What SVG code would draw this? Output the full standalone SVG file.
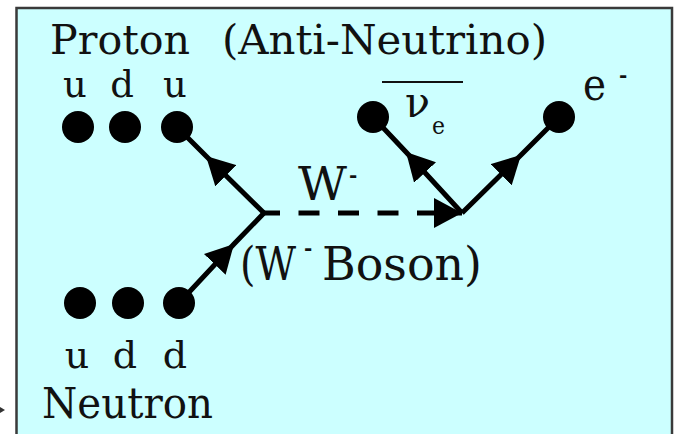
<svg xmlns="http://www.w3.org/2000/svg" width="675" height="434" viewBox="0 0 675 434">
  <defs>
    <marker id="arrow" markerUnits="userSpaceOnUse" viewBox="0 0 28 30" markerWidth="28" markerHeight="30" refX="28" refY="15" orient="auto">
      <path d="M0,0 L28,15 L0,30 Z" fill="#000" stroke="none"/>
    </marker>
  </defs>
  <style>
    text { fill: #111; }
    .sup { font-weight: bold; font-size: 20px; }
    .dot { fill: #000; }
    .line { fill: none; stroke: #000; stroke-width: 5; }
    .dash { stroke-dasharray: 21 18.5; stroke-dashoffset: 5; }
  </style>
  <rect x="0" y="0" width="675" height="434" fill="#fff"/>
  <rect id="frame" x="16.5" y="8" width="655.5" height="440" fill="#ccffff" stroke="#3a3a3a" stroke-width="2.5"/>
  <g id="offpage-mark">
    <path d="M0,407 L5,410 L0,413 Z" fill="#333"/>
  </g>

  <g id="connectors">
    <path class="line" d="M264,213 L206,156 L177,127" marker-mid="url(#arrow)"/>
    <path class="line" d="M179,303 L234,244 L264,213" marker-mid="url(#arrow)"/>
    <path class="line dash" d="M264,213 L462,213" marker-end="url(#arrow)"/>
    <path class="line" d="M462,213 L406,152 L373,117" marker-mid="url(#arrow)"/>
    <path class="line" d="M462,213 L521,155 L559,117" marker-mid="url(#arrow)"/>
  </g>

  <g font-family="'DejaVu Serif', serif">
  <g id="proton">
    <text x="50" y="54" font-size="41" textLength="140" lengthAdjust="spacingAndGlyphs">Proton</text>
    <text x="75" y="97" font-size="37" text-anchor="middle">u</text>
    <text x="122" y="97" font-size="37" text-anchor="middle">d</text>
    <text x="175" y="97" font-size="37" text-anchor="middle">u</text>
    <circle class="dot" cx="78" cy="127" r="16"/>
    <circle class="dot" cx="125" cy="127" r="16"/>
    <circle class="dot" cx="177" cy="127" r="16"/>
  </g>

  <g id="neutron">
    <circle class="dot" cx="80" cy="303" r="16"/>
    <circle class="dot" cx="128" cy="303" r="16"/>
    <circle class="dot" cx="179" cy="303" r="16"/>
    <text x="77" y="368" font-size="38" text-anchor="middle">u</text>
    <text x="125" y="368" font-size="38" text-anchor="middle">d</text>
    <text x="175" y="368" font-size="38" text-anchor="middle">d</text>
    <text x="42" y="418" font-size="43" textLength="171" lengthAdjust="spacingAndGlyphs">Neutron</text>
  </g>

  <g id="w-boson">
    <text x="298" y="200" font-size="46" textLength="49" lengthAdjust="spacingAndGlyphs">W</text>
    <text class="sup" x="349" y="182">-</text>
    <text x="240" y="280" font-size="46" textLength="56" lengthAdjust="spacingAndGlyphs">(W</text>
    <text class="sup" x="304" y="255">-</text>
    <text x="322" y="280" font-size="46" textLength="160" lengthAdjust="spacingAndGlyphs">Boson)</text>
  </g>

  <g id="antineutrino">
    <text x="222" y="54" font-size="41" textLength="325" lengthAdjust="spacingAndGlyphs">(Anti-Neutrino)</text>
    <line x1="382" y1="82" x2="463" y2="82" stroke="#111" stroke-width="2"/>
    <text x="405" y="117" font-size="42" textLength="25" lengthAdjust="spacingAndGlyphs">ν</text>
    <text x="432" y="134" font-size="24" textLength="13" lengthAdjust="spacingAndGlyphs">e</text>
    <circle class="dot" cx="373" cy="117" r="16"/>
  </g>

  <g id="electron">
    <text x="583" y="100" font-size="44" textLength="23" lengthAdjust="spacingAndGlyphs">e</text>
    <text class="sup" x="619" y="82">-</text>
    <circle class="dot" cx="559" cy="117" r="16"/>
  </g>
  </g>
</svg>
